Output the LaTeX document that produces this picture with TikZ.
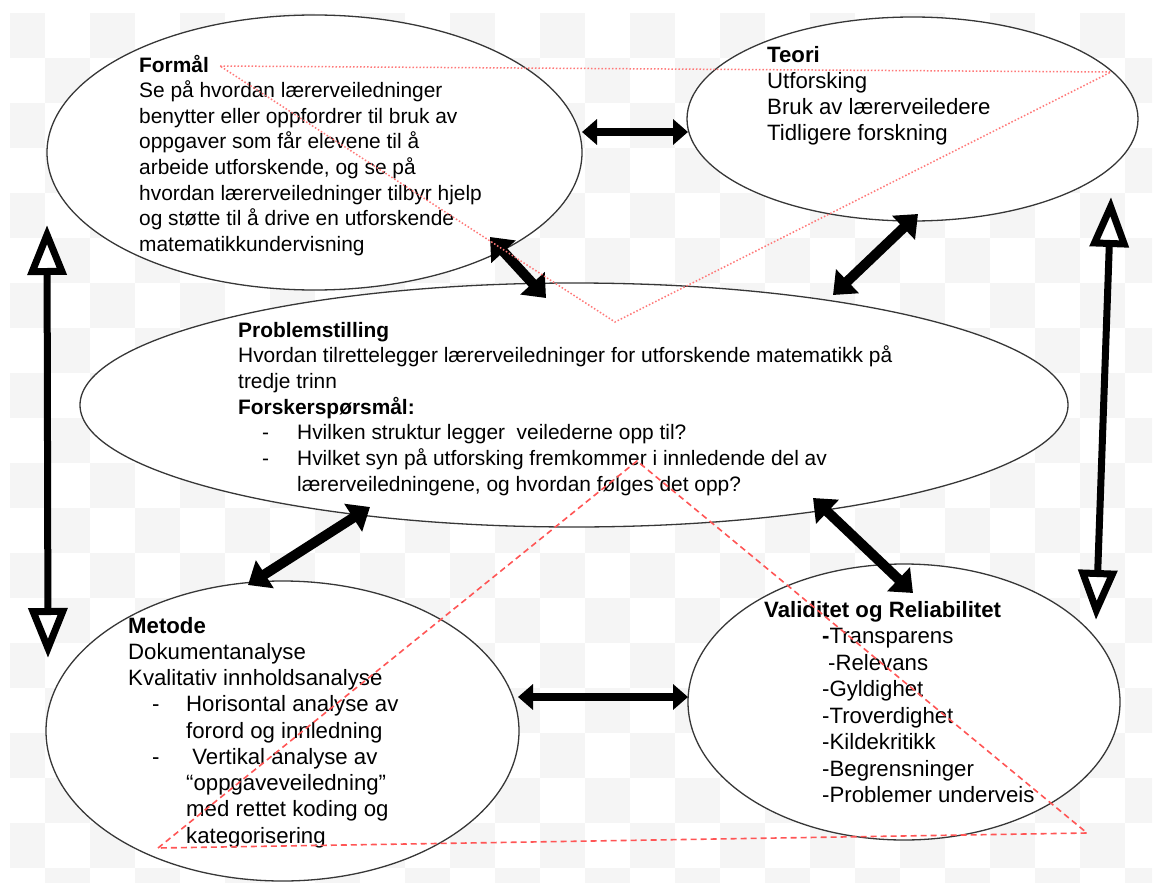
\documentclass[tikz,border=0pt]{standalone}
\usepackage{fontspec}
\setmainfont{Liberation Sans}
\usetikzlibrary{shapes.geometric,arrows.meta,calc}
\definecolor{checkgray}{RGB}{245,245,245}
\definecolor{outline}{RGB}{55,55,55}
\definecolor{dotred}{RGB}{255,120,120}
\definecolor{dashred}{RGB}{255,85,85}

\begin{document}
\begin{tikzpicture}[x=1pt,y=-1pt,
  blob/.style={ellipse, draw=outline, line width=1.3pt, fill=white, inner sep=0pt, outer sep=0pt},
  bodytext/.style 2 args={anchor=base west, align=left, inner sep=0pt, text=black,
                   font=\fontsize{#1}{#2}\selectfont},
  link/.style={line width=8pt, {Triangle[length=15pt,width=25pt]}-{Triangle[length=15pt,width=25pt]}},
  biglink/.style={line width=10pt, {Triangle[length=20pt,width=32pt]}-{Triangle[length=20pt,width=32pt]}},
  hollowlink/.style={line width=7pt, {Triangle[fill=white,length=50pt,width=38pt]}-{Triangle[fill=white,length=50pt,width=38pt]}},
  dotmark/.style={draw=dotred, line width=1.5pt, dash pattern=on 1.5pt off 2pt},
  dashmark/.style={draw=dashred, line width=1.6pt, dash pattern=on 6pt off 4pt}
]
\useasboundingbox (0,0) rectangle (1162,883);

% light checkerboard backdrop
\begin{scope}
  \clip (10,13) rectangle (1152,883);
  \foreach \c in {0,...,25} {
    \foreach \r in {0,...,19} {
      \pgfmathtruncatemacro{\cellparity}{mod(\c+\r,2)}
      \ifnum\cellparity=0
        \fill[checkgray] (45*\c,13+45*\r) rectangle ++(45,45);
      \fi
    }
  }
\end{scope}

% the five ellipses
\node[blob, minimum width=535pt, minimum height=275pt] (formal) at (314.5,152.5) {};
\node[blob, minimum width=451pt, minimum height=204pt] (teori) at (912.5,119) {};
\node[blob, minimum width=988pt, minimum height=244pt] (prob) at (574,405) {};
\node[blob, minimum width=473pt, minimum height=300pt] (metode) at (282.5,731) {};
\node[blob, minimum width=432pt, minimum height=276pt] (valid) at (904,702) {};

% texts (each anchored at the baseline of its last line)
\node[bodytext={20.9}{25.6}] (formaltext) at (139,251.2) {\textbf{Formål}\\
Se på hvordan lærerveiledninger\\
benytter eller oppfordrer til bruk av\\
oppgaver som får elevene til å\\
arbeide utforskende, og se på\\
hvordan lærerveiledninger tilbyr hjelp\\
og støtte til å drive en utforskende\\
matematikkundervisning};

\node[bodytext={22.2}{26}] (teoritext) at (767,140) {\textbf{Teori}\\
Utforsking\\
Bruk av lærerveiledere\\
Tidligere forskning};

\node[bodytext={20.9}{25.7}] (probtext) at (238,491.2) {\textbf{Problemstilling}\\
Hvordan tilrettelegger lærerveiledninger for utforskende matematikk på\\
tredje trinn\\
\textbf{Forskerspørsmål:}\\
\makebox[59pt][l]{\hspace*{24pt}-}Hvilken struktur legger\ \ veilederne opp til?\\
\makebox[59pt][l]{\hspace*{24pt}-}Hvilket syn på utforsking fremkommer i innledende del av\\
\hspace*{59pt}lærerveiledningene, og hvordan følges det opp?};

\node[bodytext={22.2}{26.25}] (metodetext) at (128,843) {\textbf{Metode}\\
Dokumentanalyse\\
Kvalitativ innholdsanalyse\\
\makebox[58pt][l]{\hspace*{24pt}-}Horisontal analyse av\\
\hspace*{58pt}forord og innledning\\
\makebox[58pt][l]{\hspace*{24pt}-}\ Vertikal analyse av\\
\hspace*{58pt}“oppgaveveiledning”\\
\hspace*{58pt}med rettet koding og\\
\hspace*{58pt}kategorisering};

\node[bodytext={22.2}{26.5}] (validtext) at (764,802.5) {\textbf{Validitet og Reliabilitet}\\
\hspace*{58pt}\textbf{-}Transparens\\
\hspace*{64pt}-Relevans\\
\hspace*{58pt}-Gyldighet\\
\hspace*{58pt}-Troverdighet\\
\hspace*{58pt}-Kildekritikk\\
\hspace*{58pt}-Begrensninger\\
\hspace*{58pt}-Problemer underveis};

% solid double arrows between the ellipses
\draw[link] ($(formal.center)+(267.5,-20.5)$) -- ($(teori.center)+(-224.5,13)$);
\draw[biglink] ($(formal.center)+(175.5,84.5)$) -- ($(prob.center)+(-28,-107)$);
\draw[biglink] ($(teori.center)+(5.5,95)$) -- ($(prob.center)+(259,-110)$);
\draw[biglink] ($(prob.center)+(-204,102)$) -- ($(metode.center)+(-34.5,-146)$);
\draw[biglink] ($(prob.center)+(239,93)$) -- ($(valid.center)+(9,-109)$);
\draw[link] ($(metode.center)+(235.5,-34)$) -- ($(valid.center)+(-216,-5)$);

% hollow-headed arrows along the sides
\draw[hollowlink] ($(formal.center)+(-267.5,72.5)$) -- ($(metode.center)+(-234.5,-73)$);
\draw[hollowlink] ($(teori.center)+(198.5,78)$) -- ($(valid.center)+(192,-82)$);

% red marking triangles
\coordinate (t1) at ($(formal.center)+(-94.5,-86.5)$);
\coordinate (t2) at ($(teori.center)+(198.5,-47)$);
\coordinate (t3) at ($(prob.center)+(41,-83)$);
\draw[dotmark] (t1) -- (t2) -- (t3) -- cycle;

\coordinate (b1) at ($(metode.center)+(-124.5,117)$);
\coordinate (b2) at ($(prob.center)+(63,56)$);
\coordinate (b3) at ($(valid.center)+(183,131)$);
\draw[dashmark] (b1) -- (b2) -- (b3) -- cycle;

\end{tikzpicture}
\end{document}
